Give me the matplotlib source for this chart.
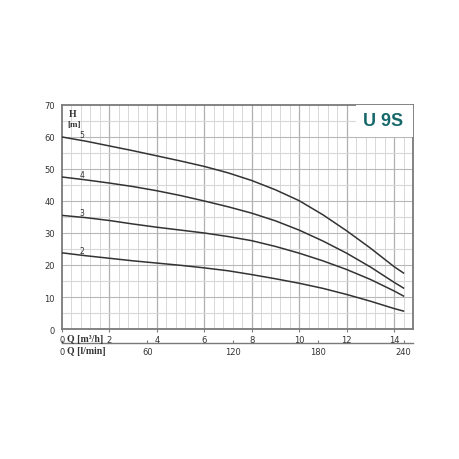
import numpy as np
import matplotlib
matplotlib.use("Agg")
import matplotlib.pyplot as plt
from matplotlib.patches import Rectangle
from matplotlib.transforms import blended_transform_factory

q = [0, 1, 2, 3, 4, 5, 6, 7, 8, 9, 10, 11, 12, 13, 14, 14.4]
h5 = [60, 58.7, 57.2, 55.7, 54.1, 52.5, 50.8, 48.8, 46.4, 43.5, 40.1, 35.7, 30.7, 25.3, 19.5, 17.5]
h4 = [47.5, 46.6, 45.6, 44.5, 43.2, 41.7, 40.0, 38.2, 36.2, 33.8, 30.9, 27.5, 23.7, 19.4, 14.6, 12.8]
h3 = [35.5, 34.8, 33.9, 32.8, 31.8, 30.9, 30.0, 28.9, 27.6, 25.8, 23.7, 21.3, 18.6, 15.5, 11.9, 10.3]
h2 = [23.8, 22.9, 22.1, 21.3, 20.6, 19.9, 19.1, 18.2, 17.0, 15.7, 14.3, 12.7, 10.8, 8.7, 6.4, 5.6]
curves = {"5": h5, "4": h4, "3": h3, "2": h2}

q_ticks = [0, 2, 4, 6, 8, 10, 12, 14]
lmin_ticks = [0, 60, 120, 180, 240]
h_ticks = [0, 10, 20, 30, 40, 50, 60, 70]

fig = plt.figure(figsize=(4.6, 4.6), dpi=100)
ax = fig.add_axes([0.1348, 0.2826, 0.763, 0.487])
ax.set_xlim(0, 14.8)
ax.set_ylim(0, 70)

# grid: fine every 0.4 m3/h and 5 m, darker every 2 m3/h and 10 m
for x in np.arange(0.4, 14.8, 0.4):
    major = abs(x / 2 - round(x / 2)) < 1e-6
    ax.axvline(x, color="#b0b0b0" if major else "#d8d8d8", lw=0.9 if major else 0.7, zorder=0)
for y in range(5, 70, 5):
    major = y % 10 == 0
    ax.axhline(y, color="#b8b8b8" if major else "#d8d8d8", lw=0.8, zorder=0)

for name, h in curves.items():
    ax.plot(q, h, color="#333333", lw=1.1, zorder=3, solid_joinstyle="round")
    ax.text(0.85, h[0] - 0.6, name, fontsize=5.5, color="#333333", ha="center", va="bottom")

# title box
ax.add_patch(Rectangle((12.4, 60), 2.4, 10, facecolor="white", edgecolor="none", zorder=4))
ax.text(13.55, 65.2, "U 9S", fontsize=13, fontweight="bold", color="#16686a",
        family=["Liberation Sans", "DejaVu Sans"], ha="center", va="center", zorder=5)

ax.text(0.45, 67.4, "H", fontsize=7, fontweight="bold", family="Liberation Serif", color="#333333",
        ha="center", va="center")
ax.text(0.5, 64.2, "[m]", fontsize=6.5, fontweight="bold", family="Liberation Serif", color="#333333",
        ha="center", va="center")

for s in ax.spines.values():
    s.set_color("#7a7a7a")
    s.set_linewidth(1.3)

ax.set_yticks(h_ticks)
ax.tick_params(axis="y", length=0, pad=5, labelsize=6, labelcolor="#333333")
ax.set_xticks(q_ticks)
ax.tick_params(axis="x", length=2, width=0.8, color="#7a7a7a", pad=2, labelsize=6,
               labelcolor="#333333")

trans = blended_transform_factory(ax.transData, ax.transAxes)
ax.text(0.22, -0.042, "Q [m\u00b3/h]", transform=trans, fontsize=7, fontweight="bold",
        family="Liberation Serif", color="#333333", ha="left", va="center")

sec = ax.secondary_xaxis(-0.0625, functions=(lambda x: x * 1000 / 60, lambda v: v * 60 / 1000))
sec.set_xticks(lmin_ticks)
sec.spines["bottom"].set_color("#7a7a7a")
sec.spines["bottom"].set_linewidth(1.0)
sec.tick_params(axis="x", direction="in", length=2, width=0.8, color="#7a7a7a", pad=3,
                labelsize=6, labelcolor="#333333")
ax.text(0.22, -0.098, "Q [l/min]", transform=trans, fontsize=7, fontweight="bold",
        family="Liberation Serif", color="#333333", ha="left", va="center")

fig.savefig("out.png", dpi=100, facecolor="white")
